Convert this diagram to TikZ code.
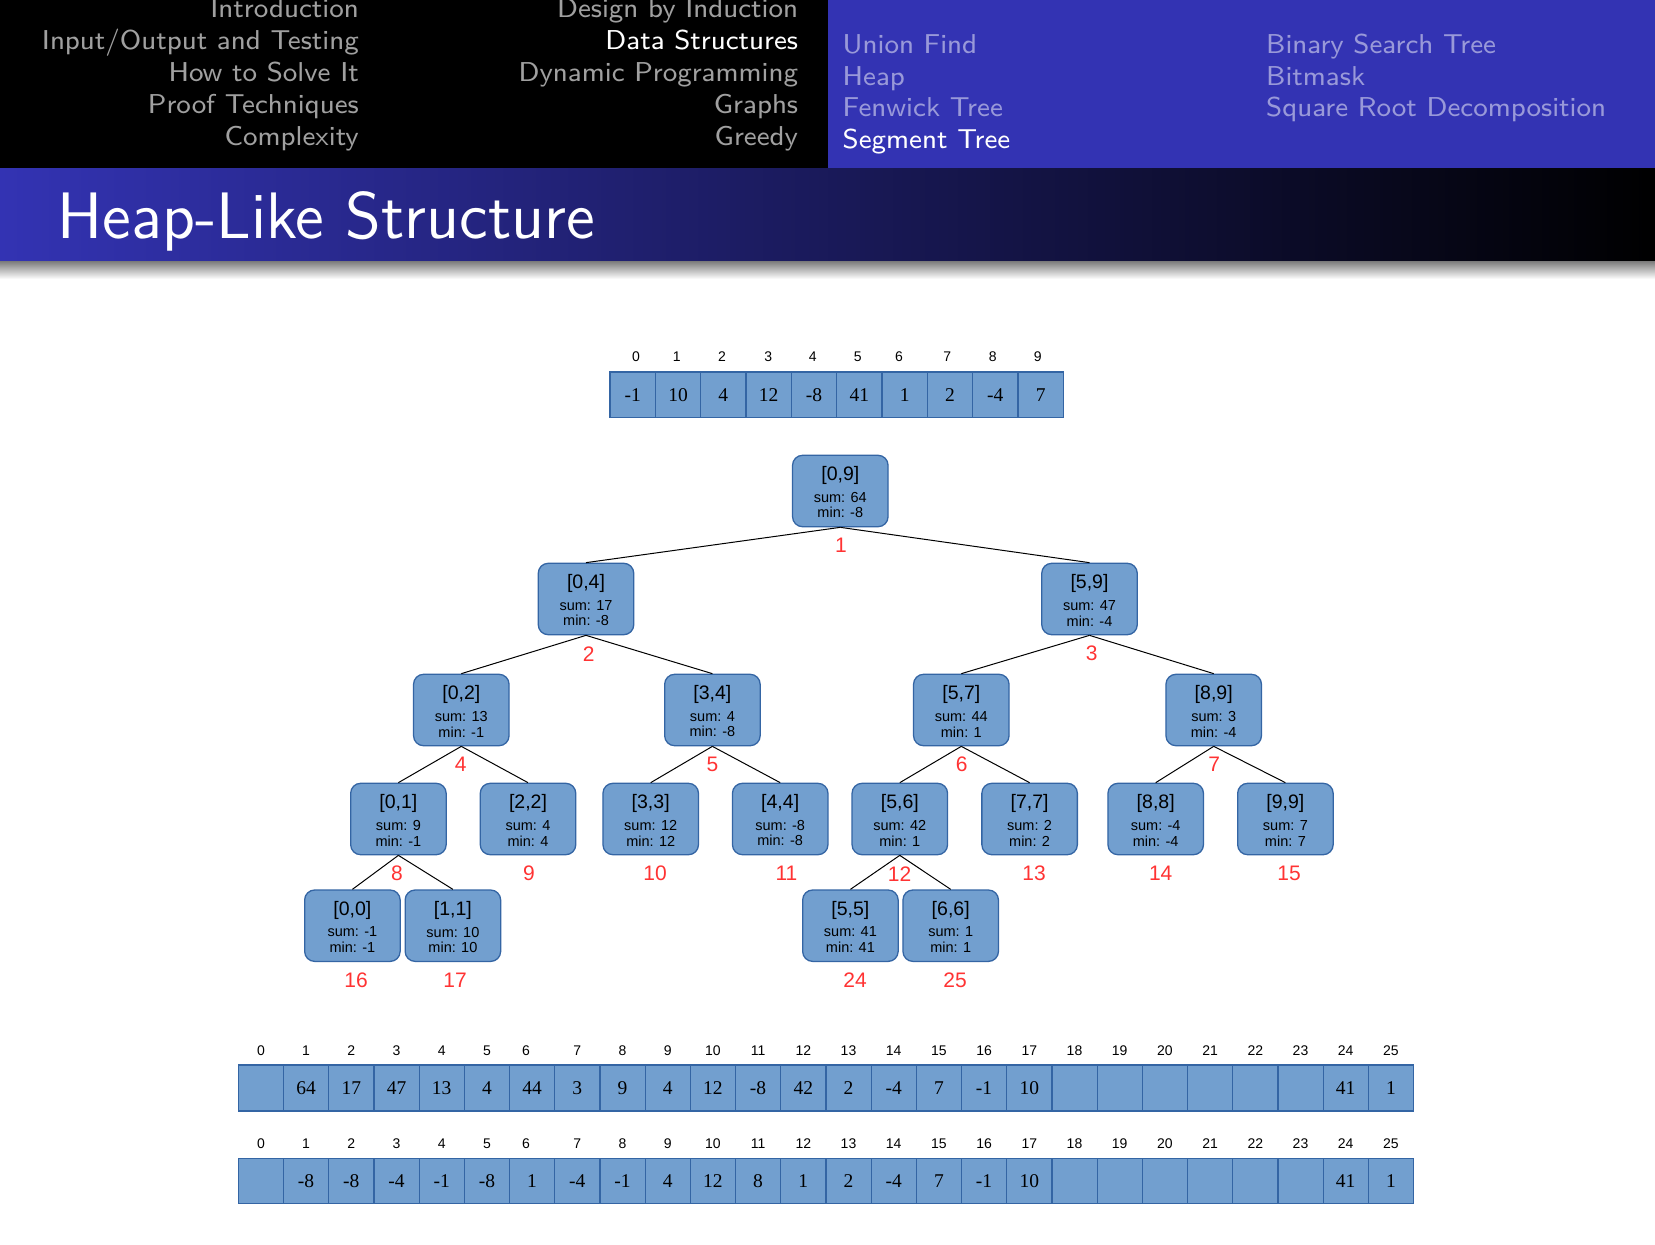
\documentclass[tikz,border=0pt]{standalone}
\usepackage{fontspec}
\newfontfamily\arialf{Liberation Sans}
\newfontfamily\timesf{Liberation Serif}
\newfontfamily\hdrfont{lmsans8-regular.otf}
\newfontfamily\titlefont{lmsans12-regular.otf}
\definecolor{nodefill}{HTML}{729FCF}
\definecolor{nodeline}{HTML}{3465A4}
\definecolor{beamerblue}{HTML}{3333B3}
\definecolor{labred}{HTML}{FF3333}
\definecolor{hdrgray}{HTML}{A0A0A0}
\definecolor{hdrblue}{HTML}{9999D9}
\newcommand\mksegnode[8]{%
  \node[segbox] (#1) at (#2,#3+35.7) {};
  \node[segttl] (#1t) at (#2,#3+20) {#4};
  \node[segsml] (#1s) at (#2,#3+42) {sum: #5};
  \node[segsml] (#1m) at (#2,#3+57.5) {min: #6};
  \node[seglab] (#1l) at (#7,#3+71.4+19) {#8};
}
\begin{document}
\begin{tikzpicture}[x=1pt,y=-1pt,
  segbox/.style={draw=nodeline, fill=nodefill, line width=1.3pt, rounded corners=10pt,
    minimum width=95.5pt, minimum height=71.4pt, inner sep=0pt},
  segttl/.style={inner sep=0pt, font=\arialf\fontsize{19.5}{21}\selectfont},
  segsml/.style={inner sep=0pt, font=\arialf\fontsize{14.5}{16}\selectfont},
  seglab/.style={inner sep=0pt, text=labred, font=\arialf\fontsize{21}{22}\selectfont},
  edge/.style={draw=black, line width=1pt},
  cell/.style={draw=nodeline, fill=nodefill, line width=1.2pt, inner sep=0pt,
    minimum width=45.3pt, minimum height=45.5pt, font=\timesf\fontsize{19.5}{20}\selectfont},
  idx/.style={inner sep=0pt, font=\arialf\fontsize{14}{15}\selectfont},
  hdrL/.style={inner sep=0pt, anchor=base east, text=hdrgray, font=\hdrfont\fontsize{27.3}{32}\selectfont},
  hdrR/.style={inner sep=0pt, anchor=base west, text=hdrblue, font=\hdrfont\fontsize{27.3}{32}\selectfont}
]
\useasboundingbox (0,0) rectangle (1655,1245);
\fill[white] (0,0) rectangle (1655,1245);
% header
\fill[black] (0,0) rectangle (828,168.3);
\fill[beamerblue] (828,0) rectangle (1655,168.3);
\shade[left color=beamerblue, right color=black] (0,168.3) rectangle (1655,261.7);
\shade[top color=black!50, bottom color=white] (0,261.7) rectangle (1655,279);
\node[hdrL] (h1) at (359,17.3) {Introduction};
\node[hdrL] (h2) at (359,49.3) {Input/Output and Testing};
\node[hdrL] (h3) at (359,81.3) {How to Solve It};
\node[hdrL] (h4) at (359,113.3) {Proof Techniques};
\node[hdrL] (h5) at (359,145.3) {Complexity};
\node[hdrL] (m1) at (798.3,17.3) {Design by Induction};
\node[hdrL, text=white] (m2) at (798.3,49.3) {Data Structures};
\node[hdrL] (m3) at (798.3,81.3) {Dynamic Programming};
\node[hdrL] (m4) at (798.3,113.3) {Graphs};
\node[hdrL] (m5) at (798.3,145.3) {Greedy};
\node[hdrR] (r1) at (842.5,53.3) {Union Find};
\node[hdrR] (r2) at (842.5,85) {Heap};
\node[hdrR] (r3) at (842.5,116.7) {Fenwick Tree};
\node[hdrR, text=white] (r4) at (842.5,148.3) {Segment Tree};
\node[hdrR] (r5) at (1266,53.3) {Binary Search Tree};
\node[hdrR] (r6) at (1266,85) {Bitmask};
\node[hdrR] (r7) at (1266,116.7) {Square Root Decomposition};
\node[inner sep=0pt, anchor=base west, text=white, font=\titlefont\fontsize{65.7}{70}\selectfont] (title) at (57.5,238.3) {Heap-Like Structure};
% top array
\foreach \v/\lx [count=\i from 0] in {-1/636,10/676.7,4/722,12/768.3,-8/812.7,41/857.7,1/899,2/947.3,-4/992.7,7/1037.7} {
  \node[cell] (a\i) at ({610+45.33*(\i+0.5)},394.8) {\v};
  \node[idx] (ai\i) at (\lx,357) {\i};
}
% bottom arrays
\foreach \v [count=\i from 0] in {{},64,17,47,13,4,44,3,9,4,12,-8,42,2,-4,7,-1,10,{},{},{},{},{},{},41,1} {
  \node[cell, minimum width=45.2pt, minimum height=46pt] (s\i) at ({238.3+45.2*(\i+0.5)},1088) {\v};
  \node[idx] (si\i) at ({238.3+45.2*(\i+0.5)+(\i==6)*(-6)},1050.7) {\i};
}
\foreach \v [count=\i from 0] in {{},-8,-8,-4,-1,-8,1,-4,-1,4,12,8,1,2,-4,7,-1,10,{},{},{},{},{},{},41,1} {
  \node[cell, minimum width=45.2pt, minimum height=45pt] (t\i) at ({238.3+45.2*(\i+0.5)},1180.8) {\v};
  \node[idx] (ti\i) at ({238.3+45.2*(\i+0.5)+(\i==6)*(-6)},1143.3) {\i};
}
% tree
\mksegnode{n1}{840.3}{455.3}{[0,9]}{64}{-8}{841}{1}
\mksegnode{n2}{586}{563.3}{[0,4]}{17}{-8}{588.6}{2}
\mksegnode{n3}{1089.5}{563.3}{[5,9]}{47}{-4}{1091.8}{3}
\mksegnode{n4}{461.3}{674.3}{[0,2]}{13}{-1}{460.7}{4}
\mksegnode{n5}{712.4}{674.3}{[3,4]}{4}{-8}{712.5}{5}
\mksegnode{n6}{961.3}{674.3}{[5,7]}{44}{1}{961.8}{6}
\mksegnode{n7}{1213.7}{674.3}{[8,9]}{3}{-4}{1214.3}{7}
\mksegnode{n8}{398.4}{783.3}{[0,1]}{9}{-1}{397}{8}
\mksegnode{n9}{528}{783.3}{[2,2]}{4}{4}{529}{9}
\mksegnode{n10}{650.7}{783.3}{[3,3]}{12}{12}{655}{10}
\mksegnode{n11}{780.2}{783.3}{[4,4]}{-8}{-8}{786.4}{11}
\mksegnode{n12}{899.8}{783.3}{[5,6]}{42}{1}{899.6}{12}
\mksegnode{n13}{1029.6}{783.3}{[7,7]}{2}{2}{1034}{13}
\mksegnode{n14}{1155.7}{783.3}{[8,8]}{-4}{-4}{1160.7}{14}
\mksegnode{n15}{1285.4}{783.3}{[9,9]}{7}{7}{1289}{15}
\mksegnode{n16}{352.4}{890}{[0,0]}{-1}{-1}{356}{16}
\mksegnode{n17}{452.9}{890}{[1,1]}{10}{10}{455}{17}
\mksegnode{n24}{850.4}{890}{[5,5]}{41}{41}{855}{24}
\mksegnode{n25}{950.7}{890}{[6,6]}{1}{1}{955}{25}
\foreach \p/\c in {1/2,1/3,2/4,2/5,3/6,3/7,4/8,4/9,5/10,5/11,6/12,6/13,7/14,7/15,8/16,8/17,12/24,12/25}
  \draw[edge] (n\p.south) -- (n\c.north);
\end{tikzpicture}
\end{document}
